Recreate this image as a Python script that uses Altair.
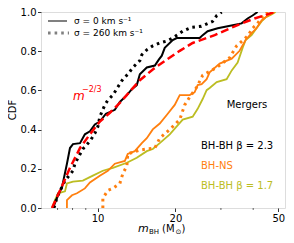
import altair as alt
import pandas as pd

# ---- data (mass in Msun, CDF) ----
bb23_s0_m = [6.72, 7.03, 7.28, 7.61, 7.82, 8.03, 8.55, 8.93, 9.34, 9.76, 10.2, 10.77, 11.66, 12.19,
             12.98, 13.57, 14.18, 14.57, 15.50, 16.65, 17.25, 17.72, 18.19, 19.53, 20.24, 24.83,
             25.50, 26.66, 29.15, 31.86, 36.08, 38.06, 39.78, 41.59]
bb23_s0_c = [0.0, 0.065, 0.105, 0.226, 0.306, 0.326, 0.331, 0.376, 0.391, 0.426, 0.441, 0.481, 0.501, 0.541,
             0.576, 0.606, 0.627, 0.682, 0.717, 0.727, 0.757, 0.777, 0.817, 0.857, 0.867, 0.867,
             0.882, 0.902, 0.917, 0.927, 0.942, 0.967, 0.982, 1.0]

bb23_s260_m = [6.78, 6.97, 7.48, 8.03, 8.17, 8.77, 9.34, 9.76, 10.03, 10.2, 10.67, 10.96, 11.46, 11.98,
               12.52, 13.09, 13.69, 14.57, 14.83, 15.50, 16.35, 17.40, 18.52, 19.53, 21.35, 23.13,
               25.2, 27.87, 28.9, 30.2]
bb23_s260_c = [0.0, 0.055, 0.14, 0.19, 0.226, 0.301, 0.341, 0.381, 0.416, 0.466, 0.526, 0.551, 0.576, 0.617,
               0.657, 0.682, 0.717, 0.752, 0.782, 0.807, 0.827, 0.842, 0.852, 0.867, 0.902, 0.922,
               0.927, 0.952, 0.982, 1.0]

model_m = [6.66, 7.16, 7.82, 8.55, 9.34, 10.2, 11.16, 12.19, 14.57, 16.35, 18.5, 20.79, 23.33, 28.38,
           33.90, 40.50, 48.38]
model_c = [0.0, 0.09, 0.205, 0.306, 0.376, 0.441, 0.486, 0.536, 0.652, 0.707, 0.757, 0.802, 0.842, 0.882,
           0.927, 0.967, 1.0]

bhns_s0_m = [7.61, 7.61, 7.96, 8.32, 8.93, 9.34, 10.2, 10.96, 11.66, 12.75, 13.08, 13.93, 14.83, 15.50,
             16.35, 17.40, 18.68, 19.88, 20.79, 22.72, 23.75, 24.39, 25.27, 26.42, 27.14, 29.67,
             33.04, 35.43, 37.4, 39.43, 41.2, 43.10, 45.05, 48.38]
bhns_s0_c = [0.0, 0.04, 0.065, 0.075, 0.10, 0.13, 0.165, 0.19, 0.226, 0.24, 0.276, 0.29, 0.331, 0.356,
             0.401, 0.431, 0.481, 0.526, 0.576, 0.576, 0.591, 0.627, 0.632, 0.657, 0.692, 0.737,
             0.762, 0.802, 0.857, 0.892, 0.917, 0.957, 0.977, 1.0]

bhns_s260_m = [10.48, 10.48, 10.96, 11.46, 12.19, 12.52, 12.98, 13.08, 14.57, 16.65, 17.40, 19.02, 20.79,
               21.73, 22.72, 24.2, 25.50, 28.9, 32.43, 34.5, 38.06, 39.78, 41.59, 43.5, 45.5]
bhns_s260_c = [0.0, 0.05, 0.09, 0.10, 0.125, 0.175, 0.215, 0.276, 0.296, 0.306, 0.356, 0.401, 0.451,
               0.526, 0.566, 0.617, 0.677, 0.717, 0.767, 0.827, 0.877, 0.917, 0.942, 0.977, 1.0]

bb17_s0_m = [6.66, 6.84, 7.03, 7.48, 7.61, 8.03, 8.77, 9.59, 10.48, 11.46, 12.98, 14.18, 15.50, 16.35,
             17.40, 19.02, 20.24, 21.35, 23.33, 24.39, 25.50, 26.42, 27.14, 28.9, 31.57, 33.04,
             34.82, 36.4, 37.4, 39.43, 41.2, 43.10, 44.65, 47.1, 48.8]
bb17_s0_c = [0.0, 0.04, 0.075, 0.085, 0.125, 0.135, 0.14, 0.165, 0.19, 0.205, 0.231, 0.256, 0.29, 0.301,
             0.331, 0.376, 0.416, 0.451, 0.466, 0.506, 0.556, 0.601, 0.612, 0.642, 0.657, 0.702,
             0.742, 0.817, 0.857, 0.882, 0.917, 0.952, 0.972, 0.987, 1.0]

x_ticks = [10, 20, 50]
x_minor = [7, 8, 9, 30, 40]
y_ticks = [0.0, 0.2, 0.4, 0.6, 0.8, 1.0]

FONT = "DejaVu Sans"
ORANGE = "#ff7f0e"
OLIVE = "#bcbd22"
W, H = 244, 196

xs = alt.Scale(type="log", domain=[6.04, 53.1], nice=False)
ys = alt.Scale(domain=[0, 1], nice=False)
xaxis = alt.Axis(values=x_ticks, format="d", title=None, grid=False, domain=False,
                 tickSize=3.5, tickWidth=0.8, tickColor="black", labelFont=FONT,
                 labelFontSize=10, labelColor="black", labelPadding=1.5, labelFlush=False)
yaxis = alt.Axis(values=y_ticks, format=".1f", title=None, grid=False, domain=False,
                 tickSize=3.5, tickWidth=0.8, tickColor="black", labelFont=FONT,
                 labelFontSize=10, labelColor="black", labelPadding=1.5, labelFlush=False)


def line(m, c, color, width, dash=None):
    df = pd.DataFrame({"m": m, "cdf": c, "i": list(range(len(m)))})
    kw = dict(color=color, strokeWidth=width, clip=True)
    if dash:
        kw["strokeDash"] = dash
        kw["strokeCap"] = "butt"
    return alt.Chart(df).mark_line(**kw).encode(
        x=alt.X("m:Q", scale=xs, axis=xaxis),
        y=alt.Y("cdf:Q", scale=ys, axis=yaxis),
        order="i:Q",
    )


one = pd.DataFrame({"a": [0]})


def txt(t, x, y, size=10, color="black", align="left", style="normal", angle=0):
    kw = dict(text=t, font=FONT, fontSize=size, color=color, align=align,
              baseline="middle", fontStyle=style)
    if angle:
        kw["angle"] = angle
    return alt.Chart(one).mark_text(**kw).encode(x=alt.value(x), y=alt.value(y))


layers = [
    line(bb17_s0_m, bb17_s0_c, OLIVE, 1.8),
    line(bhns_s0_m, bhns_s0_c, ORANGE, 1.8),
    line(bhns_s260_m, bhns_s260_c, ORANGE, 3, [2.6, 4]),
    line(bb23_s0_m, bb23_s0_c, "black", 2),
    line(bb23_s260_m, bb23_s260_c, "black", 3, [2.6, 4]),
    line(model_m, model_c, "red", 2.5, [8, 4]),
]

minor = alt.Chart(pd.DataFrame({"v": x_minor})).mark_rule(color="black", strokeWidth=0.6).encode(
    x=alt.X("v:Q", scale=xs, axis=xaxis), y=alt.value(H), y2=alt.value(H + 2))

legend = [
    alt.Chart(one).mark_rule(color="#808080", strokeWidth=2).encode(
        x=alt.value(7), x2=alt.value(26), y=alt.value(9)),
    alt.Chart(one).mark_rule(color="#808080", strokeWidth=3, strokeDash=[2.6, 4], strokeCap="butt").encode(
        x=alt.value(7), x2=alt.value(28), y=alt.value(21)),
    txt("σ = 0 km s⁻¹", 33, 9, 9),
    txt("σ = 260 km s⁻¹", 33, 21, 9),
]

annotations = [
    txt("m", 32, 84, 12, "red", style="italic"),
    txt("−2/3", 41, 78, 8, "red"),
    txt("Mergers", 206, 93, 10, align="center"),
    txt("BH-BH β = 2.3", 160, 134, 10),
    txt("BH-NS", 160, 154, 10, ORANGE),
    txt("BH-BH β = 1.7", 160, 174, 10, OLIVE),
    txt("CDF", -28, 98, 10, align="center", angle=270),
    txt("m", 97, 217, 11, style="italic"),
    txt("BH", 108, 220, 7),
    txt("(M", 121, 217, 10),
    txt("⊙", 134.5, 220, 7),
    txt(")", 140.5, 217, 10),
]

chart = alt.layer(*layers, minor, *legend, *annotations).properties(
    width=W, height=H,
    autosize=alt.AutoSizeParams(type="none"),
    padding={"left": 33, "top": 4, "right": 1, "bottom": 27},
).configure_view(stroke="black", strokeWidth=1).configure(background="white")

chart.save("out.html", embed_options={"renderer": "svg", "actions": False})
